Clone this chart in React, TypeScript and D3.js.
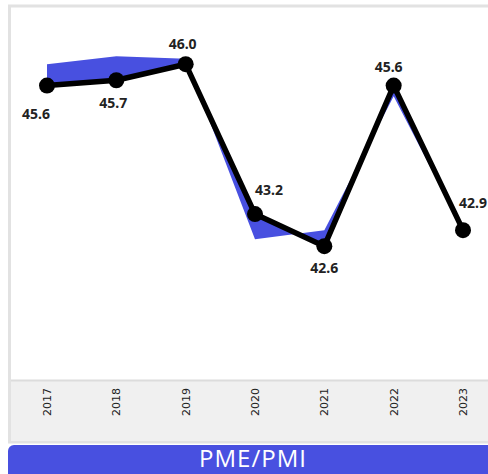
import React from "react";
import * as d3 from "d3";

// chart data
const years = ["2017", "2018", "2019", "2020", "2021", "2022", "2023"];
const pmiValues = [45.6, 45.7, 46.0, 43.2, 42.6, 45.6, 42.9];
const bandValues = [46.0, 46.15, 46.1, 42.73, 42.9, 45.4, 42.9];
const title = "PME/PMI";

// label placement around each point (dx, dy)
const labelOffsets: [number, number][] = [
  [-11, 33],
  [-3, 28],
  [-3, -15],
  [14, -19],
  [0, 27],
  [-5, -14],
  [10, -22],
];

const W = 488;
const H = 474;
const BLUE = "#4850e0";

const App = () => {
  const x = d3.scalePoint<string>().domain(years).range([47, 463]);
  const y = d3.scaleLinear().domain([40.1, 47.05]).range([380, 8]);

  const rows = years.map((yr, i) => ({ yr, v: pmiValues[i], b: bandValues[i] }));

  const band = d3
    .area<(typeof rows)[number]>()
    .x((d) => x(d.yr) as number)
    .y0((d) => y(d.v))
    .y1((d) => y(d.b));

  const line = d3
    .line<(typeof rows)[number]>()
    .x((d) => x(d.yr) as number)
    .y((d) => y(d.v));

  return (
    <svg
      width={W}
      height={H}
      style={{ position: "absolute", left: 0, top: 0 }}
      fontFamily="'Noto Sans', sans-serif"
    >
      {/* frame */}
      <rect x={9.5} y={6} width={W} height={436} fill="#fff" stroke="#e2e2e2" strokeWidth={3} />
      {/* x axis strip */}
      <rect x={11} y={380} width={W} height={61} fill="#f0f0f0" />
      <line x1={11} x2={W} y1={380.5} y2={380.5} stroke="#dcdcdc" strokeWidth={2} />

      <path d={band(rows) ?? ""} fill={BLUE} />
      <path
        d={line(rows) ?? ""}
        fill="none"
        stroke="#000"
        strokeWidth={5.5}
        strokeLinejoin="round"
      />
      {rows.map((d) => (
        <circle key={d.yr} cx={x(d.yr)} cy={y(d.v)} r={8} fill="#000" />
      ))}
      {rows.map((d, i) => (
        <text
          key={"l" + d.yr}
          x={(x(d.yr) as number) + labelOffsets[i][0]}
          y={y(d.v) + labelOffsets[i][1]}
          textAnchor="middle"
          fontSize={14}
          fontWeight="bold"
          fill="#222"
        >
          {d.v.toFixed(1)}
        </text>
      ))}

      {years.map((yr) => (
        <text
          key={"t" + yr}
          transform={`translate(${x(yr)},388) rotate(-90)`}
          textAnchor="end"
          dy="0.35em"
          fontSize={11}
          fontFamily="'DejaVu Sans', sans-serif"
          fill="#222"
        >
          {yr}
        </text>
      ))}

      {/* title bar */}
      <rect x={8} y={445} width={W} height={40} rx={6} fill={BLUE} />
      <text
        x={253}
        y={467}
        textAnchor="middle"
        fontSize={24}
        letterSpacing={1}
        fontFamily="'Open Sans', sans-serif"
        fill="#fff"
      >
        {title}
      </text>
    </svg>
  );
};

export default App;
